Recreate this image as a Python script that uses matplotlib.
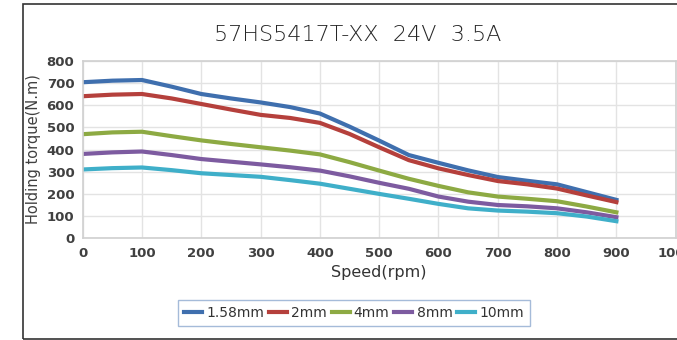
import matplotlib
matplotlib.use("Agg")
import matplotlib.pyplot as plt
from matplotlib.patches import Rectangle

speed = [0, 50, 100, 150, 200, 250, 300, 350, 400, 450, 500, 550, 600, 650, 700, 750, 800, 850, 900]
s_158 = [703, 710, 713, 683, 650, 630, 612, 591, 562, 503, 440, 375, 340, 306, 276, 259, 243, 208, 173]
s_2 = [640, 647, 650, 630, 605, 580, 556, 542, 520, 470, 410, 352, 315, 285, 258, 243, 224, 193, 163]
s_4 = [469, 477, 480, 460, 441, 425, 410, 395, 378, 343, 305, 268, 236, 207, 188, 178, 167, 143, 117]
s_8 = [380, 387, 391, 375, 357, 345, 333, 320, 305, 279, 250, 223, 188, 165, 150, 144, 135, 117, 95]
s_10 = [310, 316, 319, 307, 293, 285, 277, 262, 246, 223, 200, 178, 155, 135, 125, 120, 113, 98, 77]

labels = ["1.58mm", "2mm", "4mm", "8mm", "10mm"]
colors = ["#3F6FAE", "#B5403C", "#8DAA43", "#7D5BA0", "#3FAFC9"]
series = [s_158, s_2, s_4, s_8, s_10]

xticks = [0, 100, 200, 300, 400, 500, 600, 700, 800, 900, 1000]
yticks = [0, 100, 200, 300, 400, 500, 600, 700, 800]

W, H = 677, 340
fig = plt.figure(figsize=(W / 100, H / 100), dpi=100)

# outer chart border
fig.patches.append(Rectangle((23 / W, 1 - 339 / H), (W + 10 - 23) / W, (339 - 4) / H,
                             transform=fig.transFigure, fill=False,
                             edgecolor="#333333", linewidth=1.2))

ax = fig.add_axes([82.7 / W, 1 - 238.3 / H, 593 / W, 177.6 / H])
for s, c, l in zip(series, colors, labels):
    ax.plot(speed, s, color=c, linewidth=3.0, label=l, solid_joinstyle="round")

ax.set_xlim(0, 1000)
ax.set_ylim(0, 800)
ax.set_xticks(xticks)
ax.set_yticks(yticks)
ax.grid(True, color="#E3E3E3", linewidth=1.0)
ax.set_axisbelow(True)
for sp in ax.spines.values():
    sp.set_color("#D0D0D0")
    sp.set_linewidth(1.2)
ax.tick_params(length=0, labelsize=9.5, colors="#404040", pad=6)
for t in ax.get_xticklabels() + ax.get_yticklabels():
    t.set_fontweight("bold")

ax.set_xlabel("Speed(rpm)", fontsize=11.5, color="#333333", labelpad=4)
ax.set_ylabel("Holding torque(N.m)", fontsize=10.5, color="#404040", labelpad=4)

fig.text(358 / W, 1 - 35 / H, "57HS5417T-XX  24V  3.5A", ha="center", va="center",
         fontsize=16, color="#262626", fontweight="light")

leg = fig.legend(loc="center", bbox_to_anchor=(354 / W, 1 - 313 / H), ncol=5,
                 frameon=True, fontsize=10, handlelength=1.3, handletextpad=0.3,
                 columnspacing=0.35, fancybox=False, borderpad=0.45)
leg.get_frame().set_edgecolor("#8FAAD0")
leg.get_frame().set_linewidth(1.0)
for t in leg.get_texts():
    t.set_color("#333333")

fig.savefig("out.png", dpi=100)
